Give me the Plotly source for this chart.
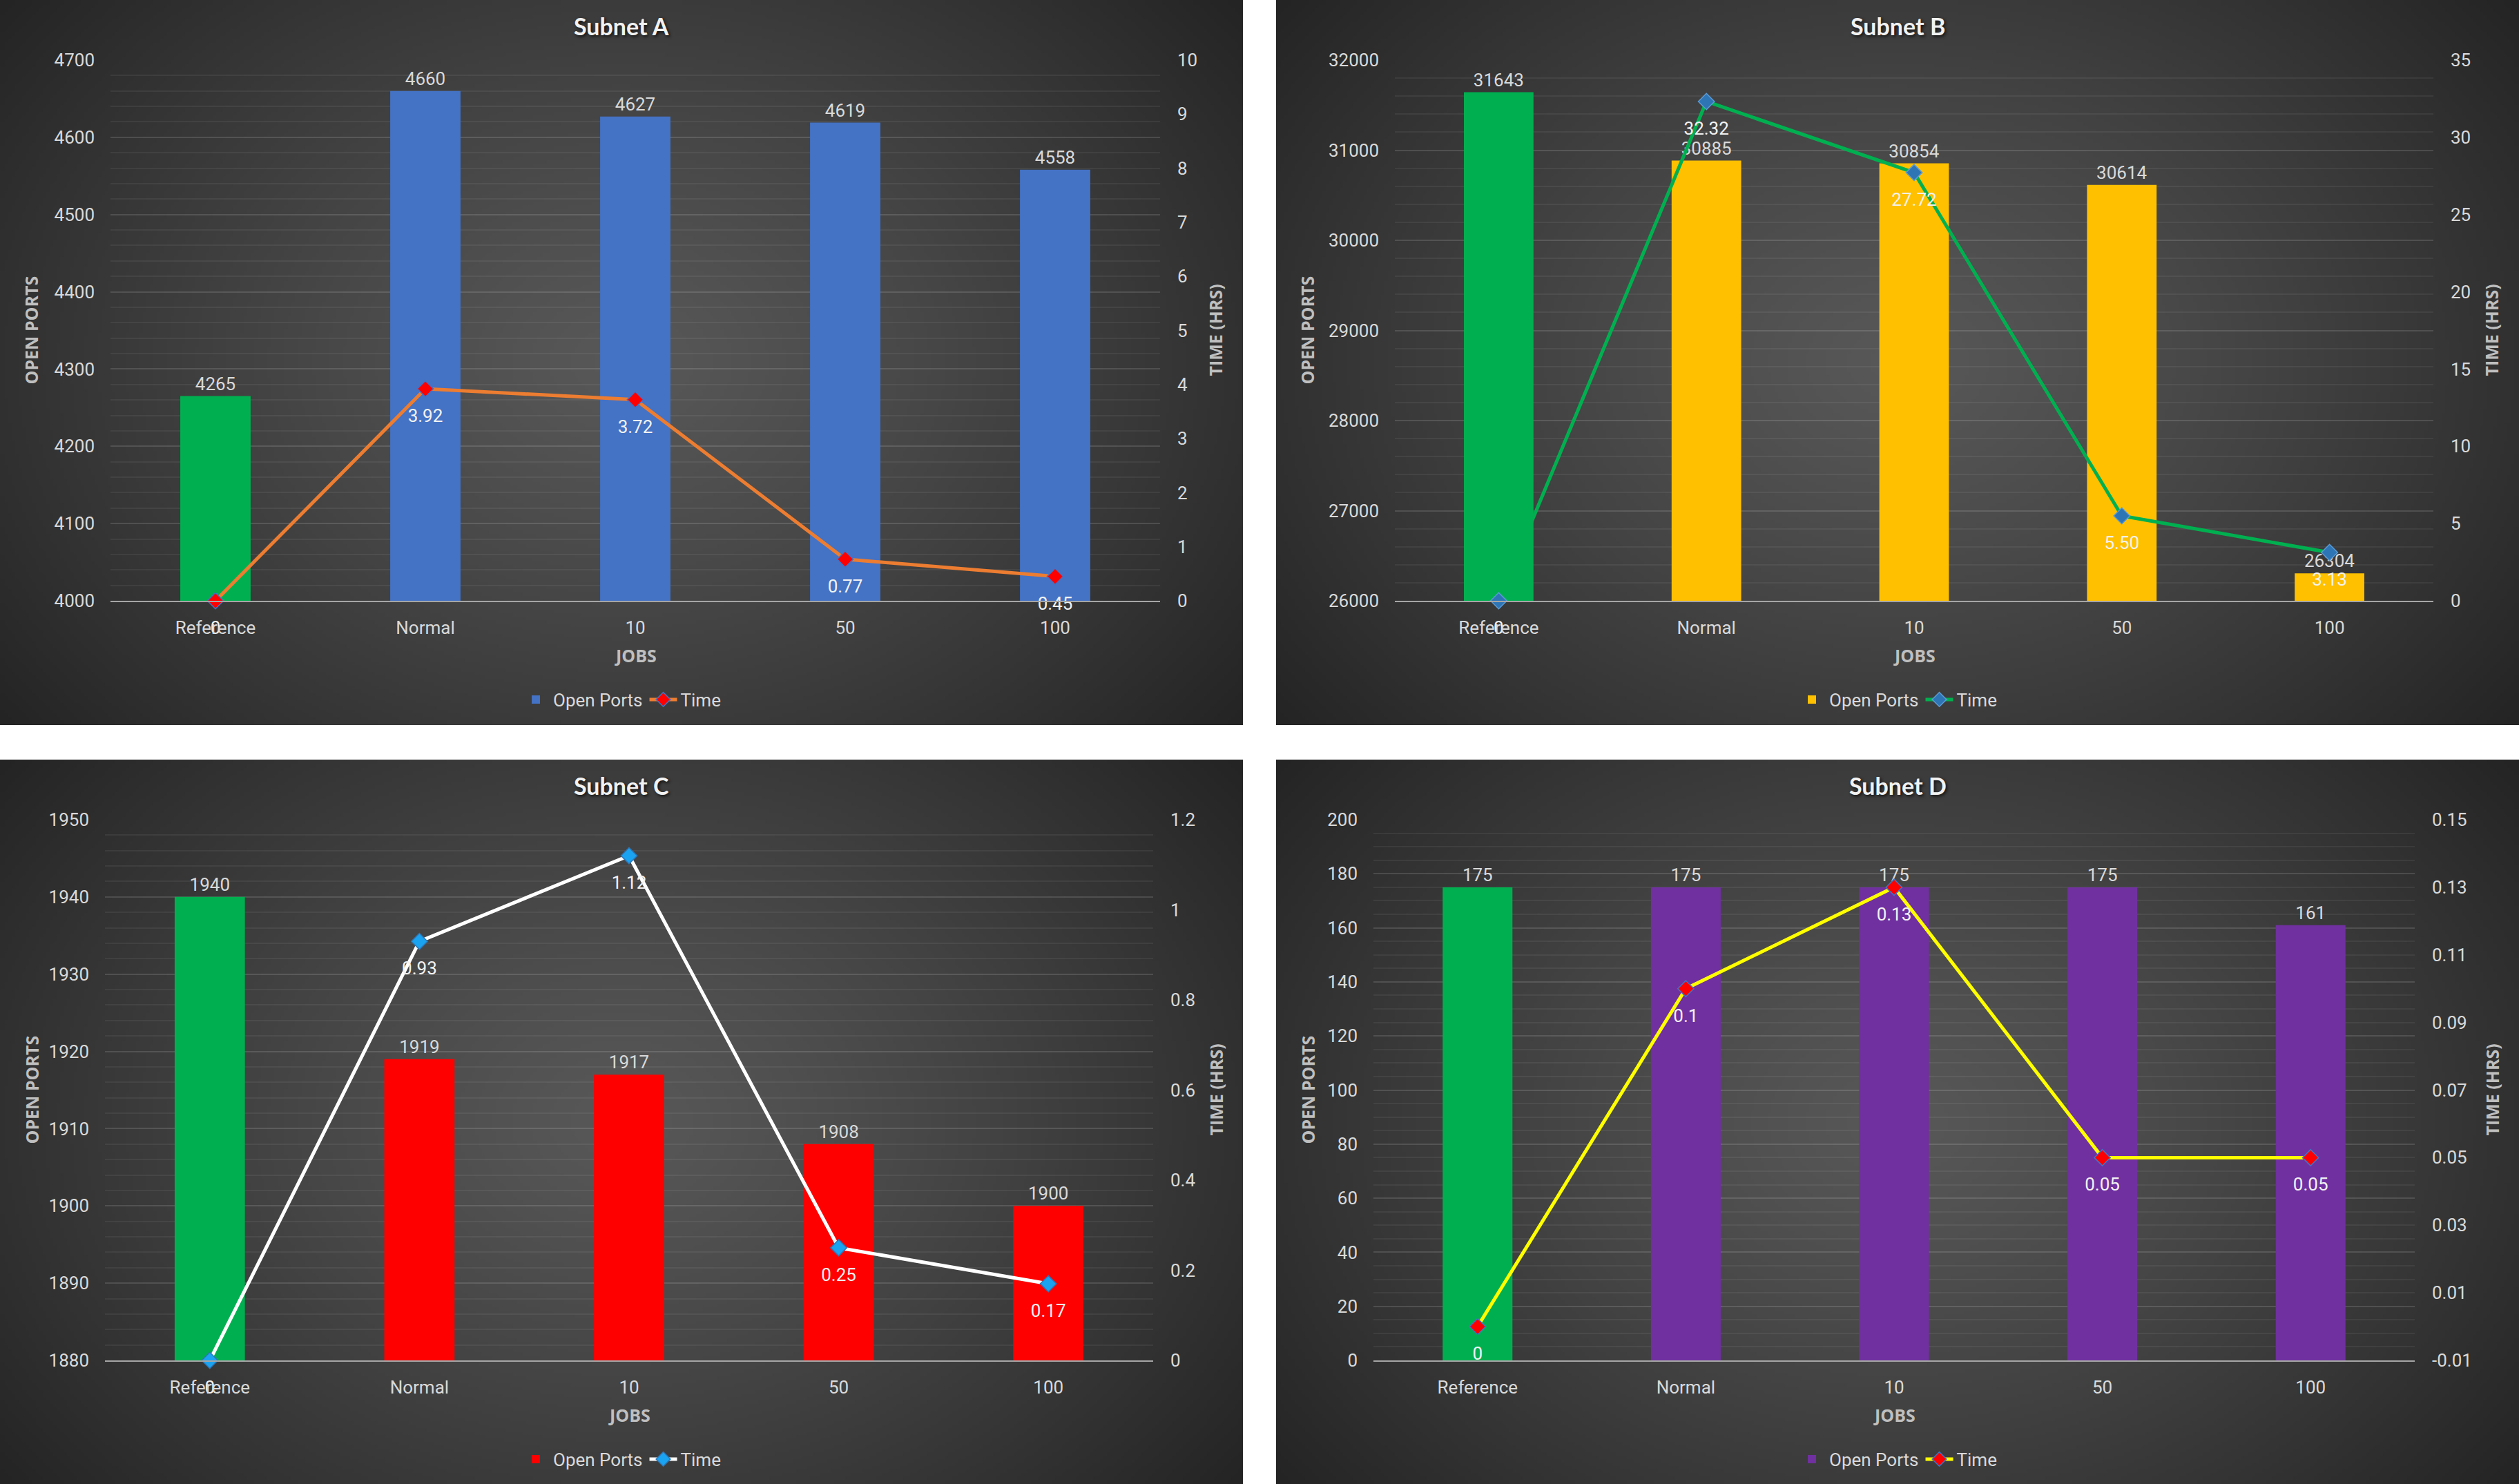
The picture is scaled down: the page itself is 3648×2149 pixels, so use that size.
import base64
import struct
import zlib

import numpy as np
import plotly.graph_objects as go

# categories / data
jobs = ["Reference", "Normal", "10", "50", "100"]

ports_a = [4265, 4660, 4627, 4619, 4558]
time_a = [0, 3.92, 3.72, 0.77, 0.45]

ports_b = [31643, 30885, 30854, 30614, 26304]
time_b = [0, 32.32, 27.72, 5.50, 3.13]

ports_c = [1940, 1919, 1917, 1908, 1900]
time_c = [0, 0.93, 1.12, 0.25, 0.17]

ports_d = [175, 175, 175, 175, 161]
time_d = [0, 0.1, 0.13, 0.05, 0.05]

W, H = 3648, 2149


def fx(px):
    return px / W


def fy(py):
    return 1 - py / H


# radial vignette behind every panel, written as a small png
def vignette_png(w=360, h=210):
    xs = (np.arange(w) + 0.5) / w
    ys = (np.arange(h) + 0.5) / h
    dx = (xs[None, :] - 0.5) / 0.5
    dy = (ys[:, None] - 0.5) / 0.5
    r = np.sqrt((dx ** 2 + 0.6 * dy ** 2) / 1.6)
    v = np.clip(88 - 52 * r ** 1.2, 0, 255).astype(np.uint8)
    raw = b"".join(b"\x00" + row.tobytes() for row in v)

    def chunk(tag, data):
        c = struct.pack(">I", len(data)) + tag + data
        return c + struct.pack(">I", zlib.crc32(tag + data) & 0xFFFFFFFF)

    png = b"\x89PNG\r\n\x1a\n"
    png += chunk(b"IHDR", struct.pack(">IIBBBBB", w, h, 8, 0, 0, 0, 0))
    png += chunk(b"IDAT", zlib.compress(raw, 9))
    png += chunk(b"IEND", b"")
    return "data:image/png;base64," + base64.b64encode(png).decode()


bg_src = vignette_png()

TICK = dict(family="Roboto, Open Sans, sans-serif", size=26, color="#d9d9d9")
BOLD = dict(family="Open Sans, sans-serif", size=25, color="#bfbfbf", weight="bold")

panels = [
    dict(name="Subnet A", ports=ports_a, time=time_a, bar="#4472C4", line="#ED7D31",
         mfill="#FF0000", mline="#4472C4", yl=[4000, 4700], dl=100, ml=20,
         yr=[0, 10], dr=1, ox=0, oy=0, box=(160, 1680), lab=None),
    dict(name="Subnet B", ports=ports_b, time=time_b, bar="#FFC000", line="#00B050",
         mfill="#2E75B6", mline="#5B9BD5", yl=[26000, 32000], dl=1000, ml=200,
         yr=[0, 35], dr=5, ox=1848, oy=0, box=(172, 1676), lab="%.2f"),
    dict(name="Subnet C", ports=ports_c, time=time_c, bar="#FF0000", line="#FFFFFF",
         mfill="#1AA3F0", mline="#2E75B6", yl=[1880, 1950], dl=10, ml=2,
         yr=[0, 1.2], dr=0.2, ox=0, oy=1100, box=(152, 1670), lab=None),
    dict(name="Subnet D", ports=ports_d, time=time_d, bar="#7030A0", line="#FFFF00",
         mfill="#FF0000", mline="#4472C4", yl=[0, 200], dl=20, ml=5,
         yr=[-0.01, 0.15], dr=0.02, ox=1848, oy=1100, box=(141, 1649), lab=None),
]

fig = go.Figure()
annotations = []
images = []

for i, p in enumerate(panels, start=1):
    xa = "x" if i == 1 else f"x{i}"
    ya = "y" if i == 1 else f"y{i}"
    y2 = f"y{i + 4}"
    leg = "legend" if i == 1 else f"legend{i}"
    ox, oy = p["ox"], p["oy"]
    x0, x1 = p["box"]
    top, bot = oy + 87, oy + 870

    if p["lab"]:
        tlabels = ["0" if v == 0 else p["lab"] % v for v in p["time"]]
    else:
        tlabels = [f"{v:g}" for v in p["time"]]

    # right axis ticks, printed with a plain hyphen for negatives
    rt = np.round(np.arange(p["yr"][0], p["yr"][1] + p["dr"] / 2, p["dr"]), 6)

    # reference bar in green, the rest in the series colour
    fig.add_trace(go.Bar(
        x=jobs[:1], y=p["ports"][:1], xaxis=xa, yaxis=ya, name="Open Ports",
        marker=dict(color="#00B050", line=dict(width=0)), showlegend=False,
        width=0.335, text=[str(v) for v in p["ports"][:1]], textposition="outside",
        textfont=TICK, constraintext="none", cliponaxis=False, legend=leg,
    ))
    fig.add_trace(go.Bar(
        x=jobs[1:], y=p["ports"][1:], xaxis=xa, yaxis=ya, name="Open Ports",
        marker=dict(color=p["bar"], line=dict(width=0)), width=0.335,
        text=[str(v) for v in p["ports"][1:]], textposition="outside",
        textfont=TICK, constraintext="none", cliponaxis=False, legend=leg,
    ))
    fig.add_trace(go.Scatter(
        x=jobs, y=p["time"], xaxis=xa, yaxis=y2, name="Time",
        mode="lines+markers", line=dict(color=p["line"], width=5),
        marker=dict(symbol="diamond", size=18, color=p["mfill"],
                    line=dict(color=p["mline"], width=1.5)),
        cliponaxis=False, legend=leg,
    ))
    # data labels sit a bit lower than plotly's default, so hang them
    # under an invisible, larger marker
    fig.add_trace(go.Scatter(
        x=jobs, y=p["time"], xaxis=xa, yaxis=y2, name="Time", showlegend=False,
        mode="markers+text", marker=dict(size=44, color="rgba(0,0,0,0)"),
        text=tlabels, textposition="bottom center",
        textfont=dict(family=TICK["family"], size=26, color="#f2f2f2"),
        cliponaxis=False, legend=leg,
    ))

    dom_x = [fx(ox + x0), fx(ox + x1)]
    dom_y = [fy(bot), fy(top)]
    fig.layout[xa.replace("x", "xaxis")] = dict(
        domain=dom_x, anchor=ya, type="category", categoryorder="array",
        categoryarray=jobs, showgrid=False, showline=True, linecolor="#a6a6a6",
        linewidth=2, ticks="", tickfont=TICK, ticklabelstandoff=15,
        fixedrange=True, automargin=False,
    )
    fig.layout[ya.replace("y", "yaxis")] = dict(
        domain=dom_y, anchor=xa, range=p["yl"], dtick=p["dl"], tick0=p["yl"][0],
        tickformat="d", showgrid=True, gridcolor="rgba(255,255,255,0.13)",
        gridwidth=2, zeroline=False, showline=False, tickfont=TICK,
        ticklabelstandoff=22, automargin=False,
        minor=dict(dtick=p["ml"], showgrid=True, gridcolor="rgba(255,255,255,0.06)",
                   gridwidth=2),
    )
    fig.layout[y2.replace("y", "yaxis")] = dict(
        overlaying=ya, side="right", anchor=xa, range=p["yr"],
        tickvals=list(rt), ticktext=[f"{v:g}" for v in rt],
        showgrid=False, zeroline=False, showline=False,
        tickfont=TICK, ticklabelstandoff=24, automargin=False,
    )
    fig.layout[leg] = dict(
        orientation="h", x=fx(ox + 900), xanchor="center", y=fy(oy + 1013),
        yanchor="middle", bgcolor="rgba(0,0,0,0)", font=TICK, itemwidth=40,
        traceorder="normal",
    )

    images.append(dict(
        source=bg_src, xref="paper", yref="paper", x=fx(ox), y=fy(oy),
        sizex=fx(1800), sizey=1050 / H, xanchor="left", yanchor="top",
        sizing="stretch", layer="below",
    ))

    annotations += [
        dict(text=p["name"], x=fx(ox + 900), y=fy(oy + 37), showarrow=False,
             font=dict(family="Lato, Open Sans, sans-serif", size=34, color="#f2f2f2",
                       weight="bold", shadow="2px 2px 4px #111"),
             xanchor="center", yanchor="middle"),
        dict(text="OPEN PORTS", x=fx(ox + 45), y=fy((top + bot) / 2), textangle=-90,
             showarrow=False, font=BOLD, xanchor="center", yanchor="middle"),
        dict(text="TIME (HRS)", x=fx(ox + 1760), y=fy((top + bot) / 2), textangle=-90,
             showarrow=False, font=BOLD, xanchor="center", yanchor="middle"),
        dict(text="JOBS", x=fx(ox + (x0 + x1) / 2), y=fy(oy + 949), showarrow=False,
             font=BOLD, xanchor="center", yanchor="middle"),
    ]
    for a in annotations[-4:]:
        a["xref"] = "paper"
        a["yref"] = "paper"

fig.update_layout(
    width=W, height=H, autosize=False,
    margin=dict(l=0, r=0, t=0, b=0, pad=0, autoexpand=False),
    paper_bgcolor="#ffffff", plot_bgcolor="rgba(0,0,0,0)",
    barmode="overlay", images=images, annotations=annotations,
    font=TICK, hovermode=False,
)

# pin the figure to the top-left corner of the page (no body margin)
pin = (
    "document.documentElement.style.overflow='hidden';"
    "document.body.style.margin='0';"
    "var gd=document.getElementById('{plot_id}');"
    "gd.style.position='fixed';gd.style.left='0px';gd.style.top='0px';"
)
fig.write_html("out.html", post_script=pin, config={"displayModeBar": False})
